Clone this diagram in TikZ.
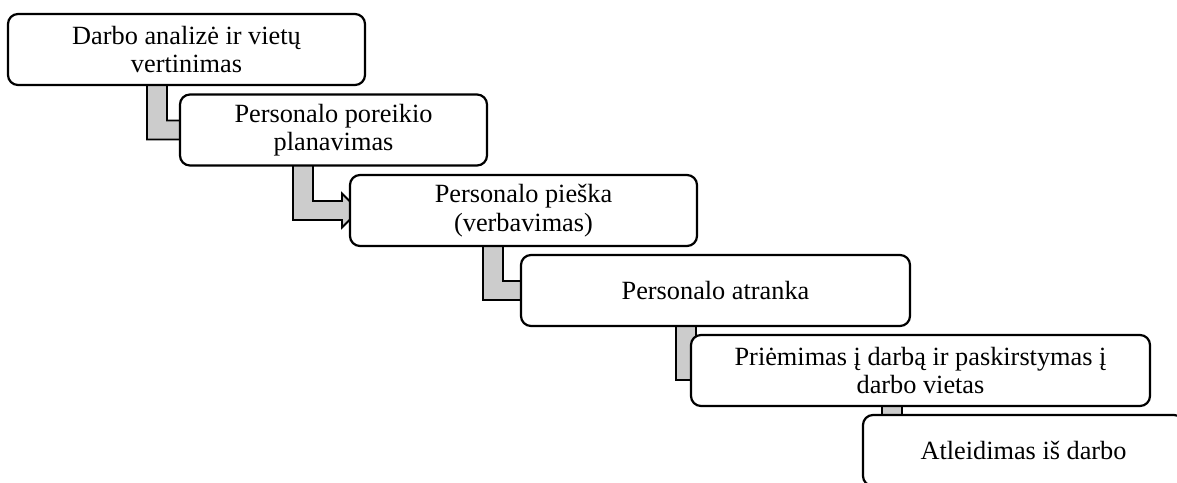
\documentclass[tikz,border=0pt]{standalone}
\usepackage{fontspec}
\setmainfont{Liberation Serif}
\usetikzlibrary{calc,backgrounds}
\definecolor{bandgray}{RGB}{204,204,204}

% Bent arrow running from the bottom of one step down and right into the next step.
% #1 source node, #2 shaft offset from the source's left edge (px), #3 target node
\newcommand\bendconn[3]{%
  \draw[connector] let \p1=(#1.south west), \p2=(#3.west) in
    (\x1+#2pt,\y1+5pt) -- (\x1+#2pt+20pt,\y1+5pt) -- (\x1+#2pt+20pt,\y2+9.5pt)
    -- (\x1+#2pt+49pt,\y2+9.5pt) -- (\x1+#2pt+49pt,\y2+17pt) -- (\x1+#2pt+66pt,\y2)
    -- (\x1+#2pt+49pt,\y2-17pt) -- (\x1+#2pt+49pt,\y2-9.5pt) -- (\x1+#2pt,\y2-9.5pt) -- cycle;}

\tikzset{
  stepbox/.style={draw, line width=2.2pt, rounded corners=10pt, fill=white,
    align=center, inner sep=0pt, outer sep=0pt, minimum height=71pt,
    font=\fontsize{26.3}{28.5}\selectfont},
  connector/.style={draw, fill=bandgray, line width=1.8pt, line join=miter},
}

\begin{document}
\begin{tikzpicture}[x=1pt, y=-1pt]
  \clip (0,0) rectangle (1177,482);

  \node[stepbox, minimum width=357pt] (b1) at (186.5,49.5) {Darbo analizė ir vietų\\vertinimas};
  \node[stepbox, minimum width=307pt] (b2) at (333.5,130) {Personalo poreikio\\planavimas};
  \node[stepbox, minimum width=347pt] (b3) at (523.5,210.5) {Personalo pieška\\(verbavimas)};
  \node[stepbox, minimum width=389pt] (b4) at (715.5,290.5) {Personalo atranka};
  \node[stepbox, minimum width=459pt] (b5) at (920.5,370.5) {Priėmimas į darbą ir paskirstymas į\\darbo vietas};
  \node[stepbox, minimum width=321pt] (b6) at (1023.5,450.5) {Atleidimas iš darbo};

  \begin{pgfonlayer}{background}
    \bendconn{b1}{139}{b2}
    \bendconn{b2}{113}{b3}
    \bendconn{b3}{133}{b4}
    \bendconn{b4}{155}{b5}
    \bendconn{b5}{191}{b6}
  \end{pgfonlayer}
\end{tikzpicture}
\end{document}
